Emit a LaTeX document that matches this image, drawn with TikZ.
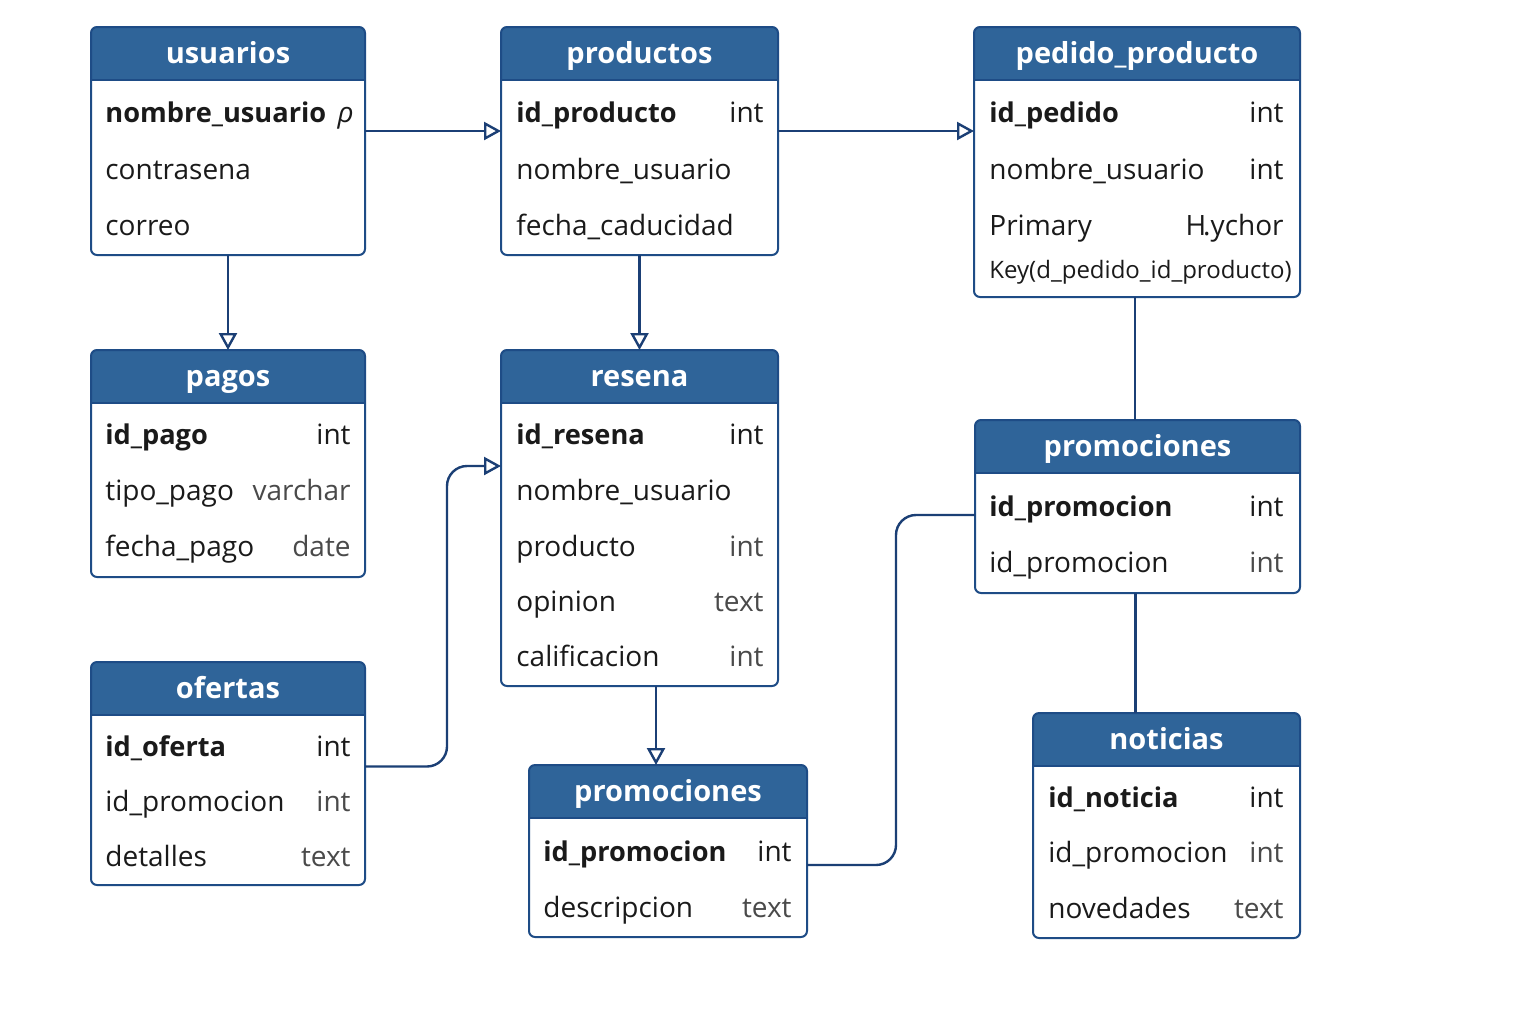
\documentclass[tikz,border=0pt]{standalone}
\usepackage{fontspec}
\setmainfont{Open Sans}
\usetikzlibrary{arrows.meta,calc}
\definecolor{hdrblue}{HTML}{2F6499}
\definecolor{bordblue}{HTML}{1E4C86}
\definecolor{linkblue}{HTML}{1B3F75}
\definecolor{txtdark}{HTML}{1A1A1A}
\definecolor{txtgrey}{HTML}{4A4A4A}
\tikzset{
  tblbox/.style={fill=white, inner sep=0pt, outer sep=0pt},
  tblborder/.style={draw=bordblue, line width=1pt},
  hdrtext/.style={anchor=base, yshift=-5pt, text=white, font=\fontsize{14.5}{16}\selectfont\bfseries, inner sep=0pt},
  fieldL/.style={anchor=base west, yshift=-5pt, text=txtdark, font=\fontsize{14}{16}\selectfont, inner sep=0pt},
  fieldB/.style={fieldL, font=\fontsize{13.6}{16}\selectfont\bfseries},
  typeR/.style={anchor=base east, yshift=-5pt, text=txtgrey, font=\fontsize{14}{16}\selectfont, inner sep=0pt},
  typeD/.style={typeR, text=txtdark},
  conn/.style={draw=linkblue, line width=1.2pt},
  arr/.style={conn, -{Triangle[open, length=8.5pt, width=9pt]}}
}
\newcommand{\ertbl}[7]{%
  \node[tblbox, minimum width={(#4-#2)*0.5pt}, minimum height={(#5-#3)*0.5pt}, anchor=north west] (#1) at (#2,#3) {};
  \begin{scope}
    \clip[rounded corners=3pt] (#2,#3) rectangle (#4,#5);
    \fill[hdrblue] (#2,#3) rectangle (#4,#6);
  \end{scope}
  \draw[tblborder] (#2,#6) -- (#4,#6);
  \draw[tblborder, rounded corners=3pt] (#1.north west) rectangle (#1.south east);
  \node[hdrtext] (#1-title) at ({(#2+#4)/2},{(#3+#6)/2}) {#7};
}
\begin{document}
\begin{tikzpicture}[x=0.5pt,y=-0.5pt]
\useasboundingbox (0,0) rectangle (1536,1024);
\fill[white] (0,0) rectangle (1536,1024);

% usuarios
\ertbl{usuarios}{91}{27}{365}{255}{80}{usuarios}
\node[fieldB] (usuarios-f1) at (105,112) {nombre\_usuario};
\node[typeD, font=\fontsize{14}{16}\selectfont\itshape] (usuarios-k1) at (354,112) {ρ};
\node[fieldL] (usuarios-f2) at (105,169) {contrasena};
\node[fieldL] (usuarios-f3) at (105,225) {correo};

% productos
\ertbl{productos}{501}{27}{778}{255}{80}{productos}
\node[fieldB] (productos-f1) at (516,112) {id\_producto};
\node[typeD] (productos-t1) at (764,112) {int};
\node[fieldL] (productos-f2) at (516,169) {nombre\_usuario};
\node[fieldL] (productos-f3) at (516,225) {fecha\_caducidad};

% pedido_producto
\ertbl{pedido}{974}{27}{1300}{297}{80}{pedido\_producto}
\node[fieldB] (pedido-f1) at (989,112) {id\_pedido};
\node[typeD] (pedido-t1) at (1284,112) {int};
\node[fieldL] (pedido-f2) at (989,169) {nombre\_usuario};
\node[typeD] (pedido-t2) at (1284,169) {int};
\node[fieldL] (pedido-f3) at (989,225) {Primary};
\node[typeD] (pedido-t3) at (1284,225) {H\kern-1.5pt.ychor};
\node[fieldL, font=\fontsize{12}{14}\selectfont] (pedido-f4) at (989,268) {Key(d\_pedido\_id\_producto)};

% pagos
\ertbl{pagos}{91}{350}{365}{577}{403}{pagos}
\node[fieldB] (pagos-f1) at (105,434) {id\_pago};
\node[typeD] (pagos-t1) at (351,434) {int};
\node[fieldL] (pagos-f2) at (105,490) {tipo\_pago};
\node[typeR] (pagos-t2) at (351,490) {varchar};
\node[fieldL] (pagos-f3) at (105,546) {fecha\_pago};
\node[typeR] (pagos-t3) at (351,546) {date};

% resena
\ertbl{resena}{501}{350}{778}{686}{403}{resena}
\node[fieldB] (resena-f1) at (516,434) {id\_resena};
\node[typeD] (resena-t1) at (764,434) {int};
\node[fieldL] (resena-f2) at (516,490) {nombre\_usuario};
\node[fieldL] (resena-f3) at (516,546) {producto};
\node[typeR] (resena-t3) at (764,546) {int};
\node[fieldL] (resena-f4) at (516,601) {opinion};
\node[typeR] (resena-t4) at (764,601) {text};
\node[fieldL] (resena-f5) at (516,656) {calificacion};
\node[typeR] (resena-t5) at (764,656) {int};

% ofertas
\ertbl{ofertas}{91}{662}{365}{885}{715}{ofertas}
\node[fieldB] (ofertas-f1) at (105,746) {id\_oferta};
\node[typeD] (ofertas-t1) at (351,746) {int};
\node[fieldL] (ofertas-f2) at (105,801) {id\_promocion};
\node[typeR] (ofertas-t2) at (351,801) {int};
\node[fieldL] (ofertas-f3) at (105,856) {detalles};
\node[typeR] (ofertas-t3) at (351,856) {text};

% promociones (centre)
\ertbl{promoC}{529}{765}{807}{937}{818}{promociones}
\node[fieldB] (promoC-f1) at (543,851) {id\_promocion};
\node[typeD] (promoC-t1) at (792,851) {int};
\node[fieldL] (promoC-f2) at (543,907) {descripcion};
\node[typeR] (promoC-t2) at (792,907) {text};

% promociones (right)
\ertbl{promoR}{975}{420}{1300}{593}{473}{promociones}
\node[fieldB] (promoR-f1) at (989,506) {id\_promocion};
\node[typeD] (promoR-t1) at (1284,506) {int};
\node[fieldL] (promoR-f2) at (989,562) {id\_promocion};
\node[typeR] (promoR-t2) at (1284,562) {int};

% noticias
\ertbl{noticias}{1033}{713}{1300}{938}{766}{noticias}
\node[fieldB] (noticias-f1) at (1048,797) {id\_noticia};
\node[typeD] (noticias-t1) at (1284,797) {int};
\node[fieldL] (noticias-f2) at (1048,852) {id\_promocion};
\node[typeR] (noticias-t2) at (1284,852) {int};
\node[fieldL] (noticias-f3) at (1048,908) {novedades};
\node[typeR] (noticias-t3) at (1284,908) {text};

% connectors
\draw[arr] ([yshift=5pt]usuarios.east) -- ([yshift=5pt]productos.west);
\coordinate (c2) at ([yshift=5pt]productos.east);
\draw[arr] (c2) -- (c2 -| pedido.west);
\draw[arr] (usuarios.south) -- (pagos.north);
\draw[arr] (productos.south) -- (resena.north);
\draw[arr, rounded corners=10pt] ([yshift=3.5pt]ofertas.east) -- ++(41pt,0) |- ([yshift=26pt]resena.west);
\coordinate (r6) at ([xshift=8.25pt]resena.south);
\draw[arr] (r6) -- (r6 |- promoC.north);
\draw[conn, rounded corners=10pt] ([yshift=-7pt]promoC.east) -- ++(44.5pt,0) |- ([yshift=-4.25pt]promoR.west);
\coordinate (p8) at ([xshift=-1pt]pedido.south);
\draw[conn] (p8) -- (p8 |- promoR.north);
\coordinate (p9) at ([xshift=-1pt]promoR.south);
\draw[conn] (p9) -- (p9 |- noticias.north);
\end{tikzpicture}
\end{document}
